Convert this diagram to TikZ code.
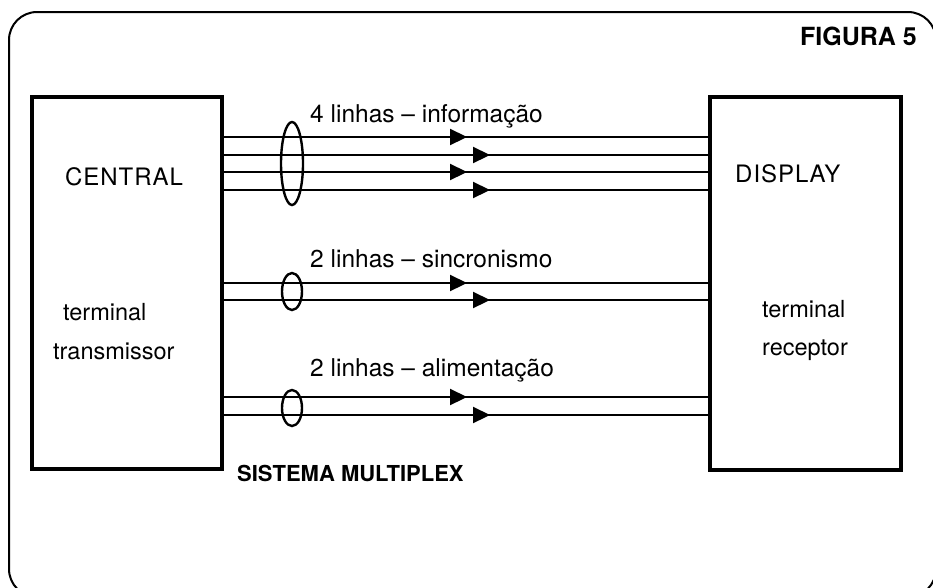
\documentclass[tikz,border=0pt]{standalone}
\usepackage{fontspec}
\setmainfont{TeX Gyre Heros}
\usetikzlibrary{shapes.geometric,arrows.meta,decorations.markings}
\tikzset{
  blockbox/.style={draw, line width=4.5pt, outer sep=0pt, inner sep=0pt},
  wire/.style={line width=2.2pt},
  tipnear/.style={postaction={decorate, decoration={markings,
      mark=at position 245pt with {\arrow{Triangle[length=17pt,width=16pt]}}}}},
  tipfar/.style={postaction={decorate, decoration={markings,
      mark=at position 268pt with {\arrow{Triangle[length=17pt,width=16pt]}}}}},
  bundle/.style={draw, ellipse, line width=2.4pt, inner sep=0pt, outer sep=0pt},
  txt/.style={anchor=base west, inner sep=0pt, font=\fontsize{24.5}{28}\selectfont},
  termtxt/.style={anchor=base west, inner sep=0pt, font=\fontsize{23.5}{28}\selectfont},
  captxt/.style={anchor=base west, inner sep=0pt, font=\fontsize{24}{28}\selectfont\addfontfeatures{LetterSpace=4}},
  boldtxt/.style={anchor=base west, inner sep=0pt, font=\fontsize{22}{26}\selectfont\bfseries},
}
\begin{document}
\begin{tikzpicture}[x=1pt, y=-1pt]
\useasboundingbox (0,0) rectangle (933,587);
\begin{scope}
\clip (0,0) rectangle (933,587);
\draw[line width=2pt, rounded corners=28pt] (9,12) rectangle (936,597);
\end{scope}

\node[blockbox, minimum width=190pt, minimum height=372pt] (central) at (127,283) {};
\node[blockbox, minimum width=191pt, minimum height=373pt] (display) at (805.5,283.5) {};

% information lines
\draw[wire, tipnear] (central.east |- 0,137) -- (display.west |- 0,137);
\draw[wire, tipfar]  (central.east |- 0,155) -- (display.west |- 0,155);
\draw[wire, tipnear] (central.east |- 0,172) -- (display.west |- 0,172);
\draw[wire, tipfar]  (central.east |- 0,190) -- (display.west |- 0,190);
% sync lines
\draw[wire, tipnear] (central.east |- 0,283) -- (display.west |- 0,283);
\draw[wire, tipfar]  (central.east |- 0,300) -- (display.west |- 0,300);
% power lines
\draw[wire, tipnear] (central.east |- 0,397) -- (display.west |- 0,397);
\draw[wire, tipfar]  (central.east |- 0,415) -- (display.west |- 0,415);

\node[bundle, minimum width=22pt, minimum height=83pt] (e1) at (292,163.5) {};
\node[bundle, minimum width=20pt, minimum height=37pt] (e2) at (292,291.5) {};
\node[bundle, minimum width=20pt, minimum height=36pt] (e3) at (292,408) {};

\node[txt] (l1) at (310,122) {4 linhas -- informação};
\node[txt] (l2) at (310,267) {2 linhas -- sincronismo};
\node[txt] (l3) at (310,376) {2 linhas -- alimentação};

\node[boldtxt] (sis) at (237,481) {SISTEMA MULTIPLEX};
\node[anchor=base west, inner sep=0pt, font=\fontsize{25}{29}\selectfont\bfseries] (fig) at (800,45) {FIGURA 5};

\node[captxt] (cen) at (65,185) {CENTRAL};
\node[termtxt] (t1) at (63,320) {terminal};
\node[termtxt] (t2) at (53,359) {transmissor};

\node[captxt] (dis) at (735,182) {DISPLAY};
\node[termtxt] (t3) at (762,317) {terminal};
\node[termtxt] (t4) at (762,355) {receptor};
\end{tikzpicture}
\end{document}
